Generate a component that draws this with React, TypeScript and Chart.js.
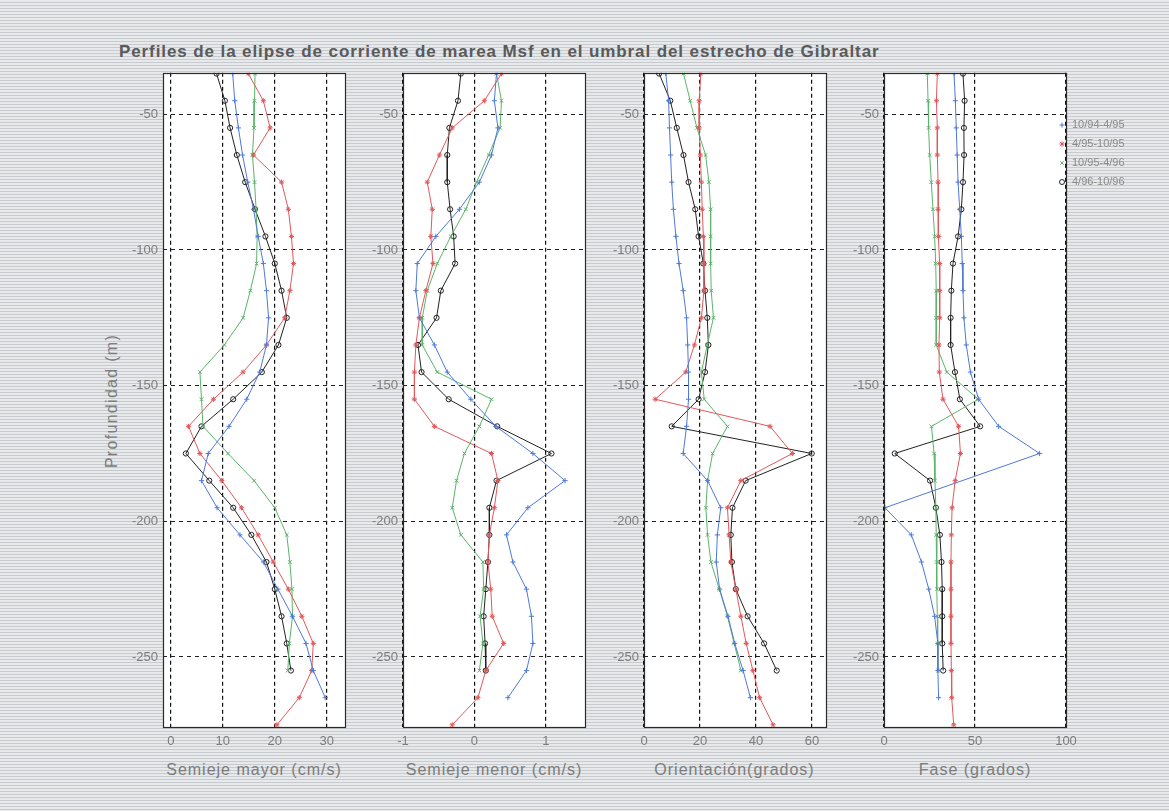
import React, { useEffect, useRef } from "react";
import { Chart, registerables } from "chart.js";
import { drawPoint } from "chart.js/helpers";

Chart.register(...registerables);

// Depth of each bin (m)
const depths = [-35, -45, -55, -65, -75, -85, -95, -105, -115, -125, -135, -145, -155, -165, -175, -185, -195, -205, -215, -225, -235, -245, -255, -265, -275];
const depthTicks = [-50, -100, -150, -200, -250];

const seriesLabels = ["10/94-4/95", "4/95-10/95", "10/95-4/96", "4/96-10/96"];
const seriesColors = ["#4f79d8", "#e0585a", "#5cb36a", "#222222"];
const seriesMarkers = ["cross", "star", "crossRot", "circle"];

// Semieje mayor (cm/s)
const mayorTicks = [0, 10, 20, 30];
const mayor9410 = [11.9, 12.3, 13.0, 13.8, 14.8, 15.9, 16.8, 17.8, 18.4, 18.8, 18.4, 17.1, 14.6, 11.2, 7.2, 5.9, 8.9, 13.3, 17.8, 20.6, 23.4, 26.0, 27.4, 29.7, null];
const mayor9504 = [14.9, 17.8, 19.1, 15.9, 21.3, 22.6, 23.2, 23.6, 22.9, 21.9, 18.4, 13.9, 8.2, 3.4, 5.6, 9.8, 13.6, 16.8, 19.7, 22.6, 25.2, 27.4, 27.1, 24.7, 20.4];
const mayor9510 = [16.2, 16.1, 16.0, 15.7, 16.1, 16.4, 16.6, 16.5, 15.3, 13.9, 10.3, 5.6, 5.9, 6.2, 11.0, 16.0, 20.0, 22.3, 22.9, 23.3, 23.4, 22.8, 22.5, null, null];
const mayor9604 = [8.8, 10.4, 11.4, 12.7, 14.3, 16.2, 18.2, 20.0, 21.3, 22.3, 20.7, 17.5, 12.0, 5.9, 2.9, 7.4, 12.0, 15.5, 18.4, 20.0, 21.3, 22.3, 23.1, null, null];

// Semieje menor (cm/s)
const menorTicks = [-1, 0, 1];
const menor9410 = [0.31, 0.28, 0.33, 0.24, 0.07, -0.21, -0.54, -0.8, -0.82, -0.77, -0.56, -0.38, -0.05, 0.3, 0.82, 1.27, 0.75, 0.45, 0.54, 0.73, 0.8, 0.82, 0.73, 0.47, null];
const menor9504 = [0.38, 0.14, -0.31, -0.49, -0.66, -0.59, -0.61, -0.58, -0.68, -0.77, -0.82, -0.84, -0.84, -0.56, 0.24, 0.33, 0.28, 0.21, 0.19, 0.23, 0.25, 0.41, 0.16, 0.05, -0.31];
const menor9510 = [0.31, 0.38, 0.36, 0.2, 0.03, -0.12, -0.33, -0.52, -0.66, -0.73, -0.73, -0.52, 0.24, 0.07, -0.14, -0.25, -0.31, -0.19, 0.12, 0.13, 0.08, 0.12, 0.07, null, null];
const menor9604 = [-0.19, -0.23, -0.35, -0.38, -0.38, -0.34, -0.29, -0.27, -0.47, -0.53, -0.79, -0.74, -0.36, 0.32, 1.08, 0.31, 0.21, 0.21, 0.19, 0.16, 0.13, 0.15, 0.16, null, null];

// Orientación (grados)
const orientTicks = [0, 20, 40, 60];
const orient9410 = [7.8, 8.8, 9.1, 9.5, 9.9, 10.5, 11.4, 12.5, 14.0, 15.2, 15.6, 15.9, 15.9, 15.2, 14.0, 22.7, 27.4, 26.2, 25.8, 27.0, 30.0, 32.4, 35.4, 38.0, null];
const orient9504 = [20.3, 19.7, 19.7, 20.1, 20.5, 20.8, 21.2, 21.4, 21.4, 20.5, 18.0, 14.9, 4.0, 45.0, 53.0, 34.6, 29.8, 30.4, 31.0, 32.8, 34.6, 36.5, 38.9, 41.3, 46.1];
const orient9510 = [14.1, 16.5, 18.9, 22.0, 23.2, 23.8, 23.8, 23.8, 24.0, 24.8, 22.6, 20.5, 21.5, 29.8, 24.5, 22.7, 22.1, 22.7, 23.9, 26.9, 29.8, 32.2, 34.6, null, null];
const orient9604 = [5.4, 9.4, 11.7, 14.1, 15.9, 18.3, 19.5, 21.2, 21.8, 22.6, 23.0, 21.8, 19.5, 9.9, 59.9, 36.3, 31.6, 31.0, 31.4, 32.8, 37.0, 42.9, 47.4, null, null];

// Fase (grados)
const faseTicks = [0, 50, 100];
const fase9410 = [38.5, 39.2, 39.7, 40.2, 40.7, 41.6, 42.5, 43.0, 43.4, 43.9, 45.2, 47.5, 52.0, 63.0, 85.5, null, 0.5, 15.0, 20.6, 24.6, 27.8, 29.6, 29.6, 30.0, null];
const fase9504 = [29.3, 28.8, 29.3, 29.3, 29.7, 29.7, 30.0, 30.6, 30.6, 30.6, 30.2, 30.4, 32.4, 41.0, 42.0, 39.1, 37.4, 37.0, 36.8, 36.8, 36.8, 36.8, 37.0, 37.2, 38.3];
const fase9510 = [23.8, 24.2, 24.5, 25.1, 26.0, 26.9, 27.8, 28.4, 28.7, 28.7, 28.7, 34.5, 51.8, 26.1, 27.5, 28.0, 28.5, 28.7, 28.9, 29.1, 29.3, 29.5, 29.7, null, null];
const fase9604 = [43.4, 44.3, 43.9, 44.0, 43.4, 42.5, 40.7, 37.9, 37.0, 36.6, 36.6, 39.0, 41.7, 52.8, 5.9, 25.3, 28.5, 30.7, 31.6, 32.0, 32.0, 32.0, 32.5, null, null];

const FONT = "'Liberation Sans', Arial, Helvetica, sans-serif";
const TEXT_GREY = "#7c7c7c";

// Layout of the figure (px)
const PAGE_W = 1169;
const PAGE_H = 811;
const PLOT_TOP = 70;
const PLOT_BOTTOM = 727;
const PLOT_W = 182;
const AXIS_W = 50;
const CANVAS_TOP = 60;
const CANVAS_BOTTOM = 760;

type PanelDef = {
  xLabel: string;
  left: number;
  xMin: number;
  xMax: number;
  xTicks: number[];
  series: (number | null)[][];
  legend?: boolean;
};

const panels: PanelDef[] = [
  { xLabel: "Semieje mayor (cm/s)", left: 163, xMin: -1.5, xMax: 33.5, xTicks: mayorTicks, series: [mayor9410, mayor9504, mayor9510, mayor9604] },
  { xLabel: "Semieje menor (cm/s)", left: 403, xMin: -1, xMax: 1.55, xTicks: menorTicks, series: [menor9410, menor9504, menor9510, menor9604] },
  { xLabel: "Orientación(grados)", left: 643.5, xMin: 0, xMax: 65, xTicks: orientTicks, series: [orient9410, orient9504, orient9510, orient9604] },
  { xLabel: "Fase (grados)", left: 884, xMin: 0, xMax: 100, xTicks: faseTicks, series: [fase9410, fase9504, fase9510, fase9604], legend: true },
];

// White axes background and black frame round the plotting area
const framePlugin = {
  id: "frame",
  beforeDraw(chart: any) {
    const { ctx, chartArea: a } = chart;
    ctx.save();
    ctx.fillStyle = "#ffffff";
    ctx.fillRect(a.left, a.top, a.right - a.left, a.bottom - a.top);
    ctx.restore();
  },
  afterDraw(chart: any) {
    const { ctx, chartArea: a } = chart;
    ctx.save();
    ctx.strokeStyle = "#2a2a2a";
    ctx.lineWidth = 1.2;
    ctx.strokeRect(Math.round(a.left) + 0.5, Math.round(a.top) + 0.5, Math.round(a.right - a.left), Math.round(a.bottom - a.top));
    ctx.restore();
  },
};

function makeLegendPlugin(canvasLeft: number) {
  return {
    id: "seriesLegend",
    afterDraw(chart: any) {
      const { ctx } = chart;
      ctx.save();
      seriesLabels.forEach((label, i) => {
        const y = 125 + i * 19 - CANVAS_TOP;
        const mx = 1062 - canvasLeft;
        ctx.strokeStyle = seriesColors[i];
        ctx.fillStyle = "rgba(0,0,0,0)";
        ctx.lineWidth = 1;
        drawPoint(ctx, { pointStyle: seriesMarkers[i] as any, radius: 2.5, rotation: 0, borderWidth: 1 }, mx, y);
        ctx.fillStyle = "#8a8a8a";
        ctx.font = `11px ${FONT}`;
        ctx.textAlign = "left";
        ctx.textBaseline = "middle";
        ctx.fillText(label, 1072 - canvasLeft, y);
      });
      ctx.restore();
    },
  };
}

function Panel({ def }: { def: PanelDef }) {
  const ref = useRef<HTMLCanvasElement | null>(null);
  const canvasLeft = def.left - AXIS_W;
  const padRight = def.legend ? PAGE_W - (def.left + PLOT_W) : 8;
  const width = AXIS_W + PLOT_W + padRight;
  const height = CANVAS_BOTTOM - CANVAS_TOP;

  useEffect(() => {
    if (!ref.current) return;
    const datasets = def.series.map((vals, k) => ({
      label: seriesLabels[k],
      data: depths
        .map((d, i) => ({ x: vals[i], y: d }))
        .filter((p) => p.x !== null && p.x !== undefined),
      borderColor: seriesColors[k],
      backgroundColor: "rgba(0,0,0,0)",
      borderWidth: 1,
      pointStyle: seriesMarkers[k],
      pointRadius: 2.6,
      pointBorderWidth: 1,
      pointBorderColor: seriesColors[k],
      pointBackgroundColor: "rgba(0,0,0,0)",
      tension: 0,
      fill: false,
    }));

    const plugins: any[] = [framePlugin];
    if (def.legend) plugins.push(makeLegendPlugin(canvasLeft));

    const chart = new Chart(ref.current, {
      type: "line",
      data: { datasets } as any,
      options: {
        animation: false,
        responsive: false,
        maintainAspectRatio: false,
        layout: { padding: { top: PLOT_TOP - CANVAS_TOP, right: padRight, left: 0, bottom: 0 } },
        plugins: {
          legend: { display: false },
          tooltip: { enabled: false },
          title: { display: false },
        },
        scales: {
          x: {
            type: "linear",
            position: "bottom",
            min: def.xMin,
            max: def.xMax,
            afterBuildTicks: (s: any) => {
              s.ticks = def.xTicks.map((v) => ({ value: v }));
            },
            afterFit: (s: any) => {
              s.height = CANVAS_BOTTOM - PLOT_BOTTOM;
            },
            grid: { color: "#111111", lineWidth: 1.2, drawTicks: false },
            border: { display: false, dash: [4, 3] },
            ticks: {
              color: TEXT_GREY,
              font: { family: FONT, size: 13 },
              padding: 7,
              maxRotation: 0,
              autoSkip: false,
            },
          },
          y: {
            type: "linear",
            position: "left",
            min: -275.8,
            max: -34.7,
            afterBuildTicks: (s: any) => {
              s.ticks = depthTicks.map((v) => ({ value: v }));
            },
            afterFit: (s: any) => {
              s.width = AXIS_W;
            },
            grid: { color: "#222222", lineWidth: 1, drawTicks: false },
            border: { display: false, dash: [4, 4] },
            ticks: {
              color: TEXT_GREY,
              font: { family: FONT, size: 13 },
              padding: 5,
              autoSkip: false,
            },
          },
        },
      } as any,
      plugins,
    });
    return () => chart.destroy();
  }, []);

  return (
    <canvas
      ref={ref}
      width={width}
      height={height}
      style={{ position: "absolute", left: canvasLeft, top: CANVAS_TOP, width, height }}
    />
  );
}

export default function App() {
  return (
    <div
      style={{
        position: "absolute",
        left: 0,
        top: 0,
        width: PAGE_W,
        height: PAGE_H,
        overflow: "hidden",
        fontFamily: FONT,
        background:
          "repeating-linear-gradient(180deg, #e7e9eb 0px, #e7e9eb 2px, #c7cbcf 2px, #c7cbcf 3px)",
      }}
    >
      <div
        style={{
          position: "absolute",
          left: 119,
          top: 43,
          fontSize: 17,
          lineHeight: "18px",
          letterSpacing: "0.9px",
          fontWeight: "bold",
          color: "#5a5a5a",
          whiteSpace: "nowrap",
        }}
      >
        Perfiles de la elipse de corriente de marea Msf en el umbral del estrecho de Gibraltar
      </div>
      <div
        style={{
          position: "absolute",
          left: 112,
          top: 401,
          transform: "translate(-50%, -50%) rotate(-90deg)",
          fontSize: 16,
          letterSpacing: "1.3px",
          color: TEXT_GREY,
          whiteSpace: "nowrap",
        }}
      >
        Profundidad (m)
      </div>
      {panels.map((p, i) => (
        <Panel key={i} def={p} />
      ))}
      {panels.map((p, i) => (
        <div
          key={"xl" + i}
          style={{
            position: "absolute",
            left: p.left + PLOT_W / 2,
            top: 770,
            transform: "translate(-50%, -50%)",
            fontSize: 16,
            letterSpacing: "1px",
            color: TEXT_GREY,
            whiteSpace: "nowrap",
          }}
        >
          {p.xLabel}
        </div>
      ))}
    </div>
  );
}
